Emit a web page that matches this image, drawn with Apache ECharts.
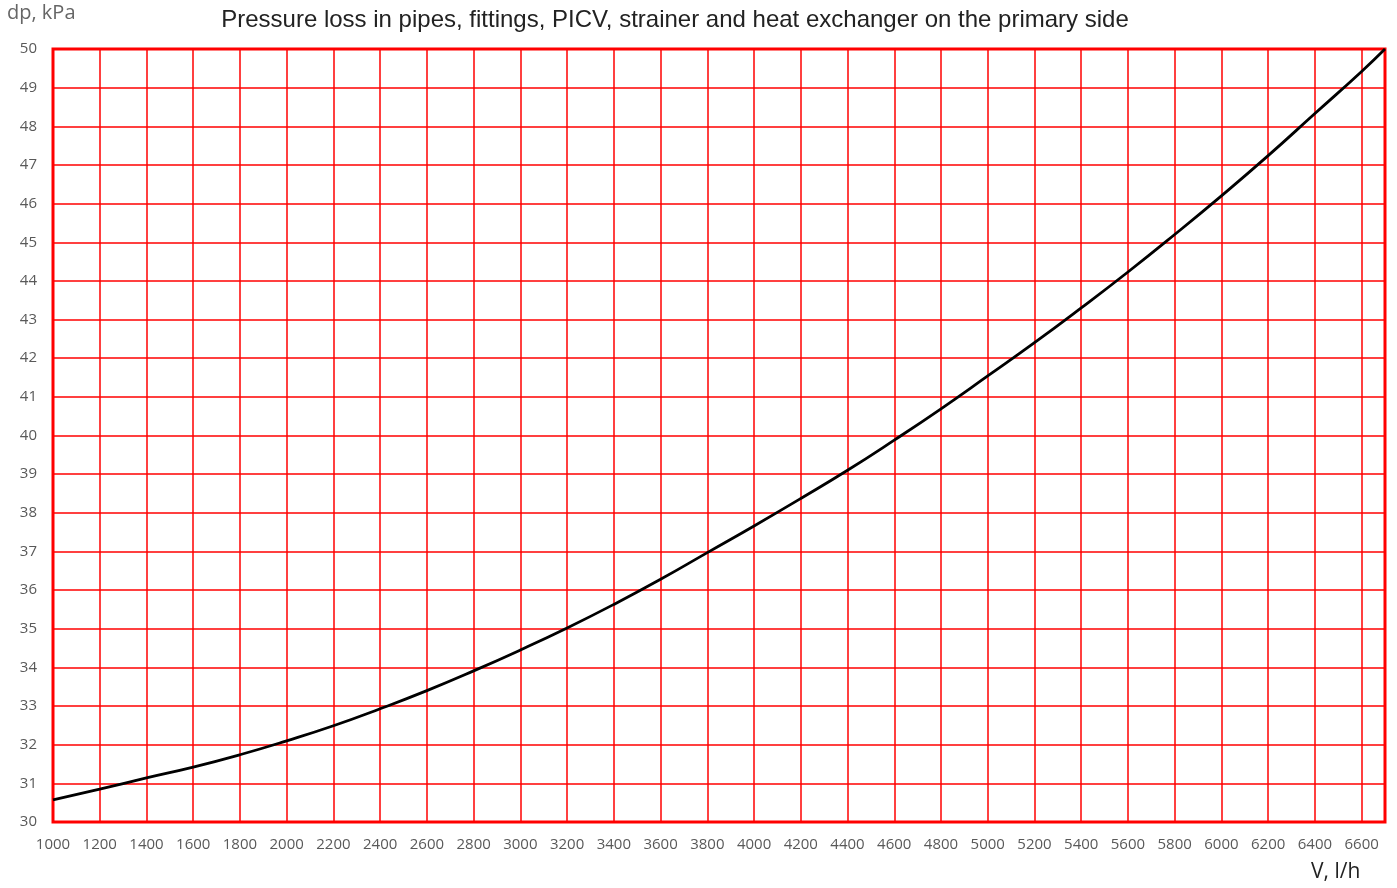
<!DOCTYPE html>
<html>
<head>
<meta charset="utf-8">
<script src="https://cdn.jsdelivr.net/npm/echarts@6/dist/echarts.min.js"></script>
<style>html,body{margin:0;padding:0;background:#fff}#c{width:1397px;height:888px}</style>
</head>
<body>
<div id="c"></div>
<script>
const flowValues = [1000,1200,1400,1600,1800,2000,2200,2400,2600,2800,3000,3200,3400,3600,3800,4000,4200,4400,4600,4800,5000,5200,5400,5600,5800,6000,6200,6400,6600,6700];
const pressureLoss = [30.57,30.85,31.14,31.42,31.74,32.1,32.49,32.93,33.4,33.91,34.45,35.02,35.63,36.28,36.97,37.66,38.37,39.1,39.88,40.69,41.54,42.4,43.3,44.23,45.2,46.2,47.24,48.33,49.42,50.0];
const xRange = [1000, 6700];
const yRange = [30, 50];
const titleText = 'Pressure loss in pipes, fittings, PICV, strainer and heat exchanger on the primary side';
const yName = 'dp, kPa';
const xName = 'V, l/h';

const chart = echarts.init(document.getElementById('c'), null, {renderer: 'canvas'});
const red = '#ff0000';
chart.setOption({
  animation: false,
  backgroundColor: '#fff',
  title: {
    text: titleText, left: 670, top: 3, textAlign: 'center',
    textStyle: {fontFamily: 'Liberation Sans', fontSize: 24, fontWeight: 'normal', color: '#222'}
  },
  graphic: [
    {type: 'text', left: 7, top: 3, style: {text: yName, font: '20px "Open Sans"', fill: '#666'}},
    {type: 'text', left: 1311, top: 862, style: {text: xName, font: '21px "Open Sans"', fill: '#222'}}
  ],
  grid: {left: 53, right: 12, top: 49, bottom: 66, show: true, borderColor: red, borderWidth: 3, backgroundColor: '#fff'},
  xAxis: {
    type: 'value', min: xRange[0], max: xRange[1], interval: 200,
    axisLine: {show: false}, axisTick: {show: false},
    axisLabel: {showMaxLabel: false, margin: 15, color: '#595959', fontSize: 15, fontFamily: 'Open Sans', formatter: v => String(v)},
    splitLine: {show: true, lineStyle: {color: red, width: 1.5}}
  },
  yAxis: {
    type: 'value', min: yRange[0], max: yRange[1], interval: 1,
    axisLine: {show: false}, axisTick: {show: false},
    axisLabel: {margin: 16, color: '#595959', fontSize: 15, fontFamily: 'Open Sans', formatter: v => String(v)},
    splitLine: {show: true, lineStyle: {color: red, width: 1.5}}
  },
  series: [{
    type: 'line', smooth: 0.5, showSymbol: false,
    data: flowValues.map((v, i) => [v, pressureLoss[i]]),
    lineStyle: {color: '#000', width: 2.8}
  }]
});
</script>
</body>
</html>
